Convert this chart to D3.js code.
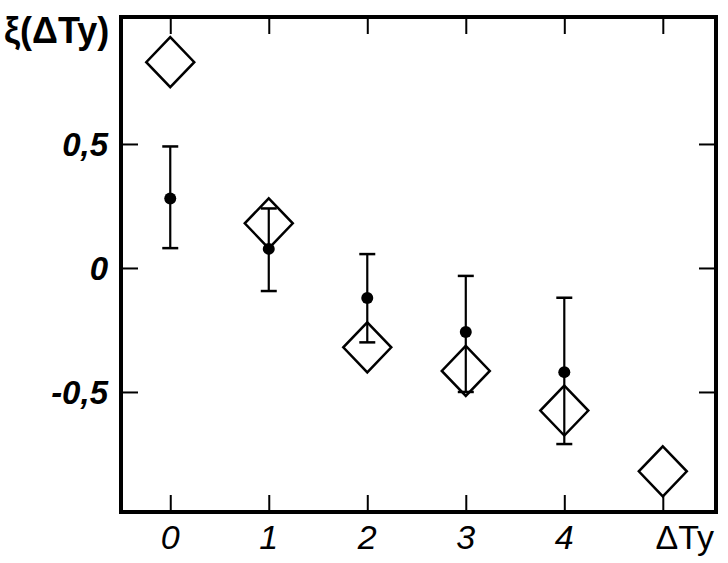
<!DOCTYPE html>
<html>
<head>
<meta charset="utf-8">
<script src="https://cdn.jsdelivr.net/npm/d3@7"></script>
<style>
  html, body { margin: 0; padding: 0; background: #fff; }
  svg { display: block; }
</style>
</head>
<body>
<svg id="chart" width="728" height="563"></svg>
<script>
// ---- data ----
const pointX = [0, 1, 2, 3, 4];
const pointY = [0.28, 0.077, -0.121, -0.258, -0.42];
const errHigh = [0.49, 0.24, 0.056, -0.032, -0.12];
const errLow = [0.08, -0.093, -0.30, -0.50, -0.71];

const diamondX = [0, 1, 2, 3, 4, 5];
const diamondY = [0.83, 0.18, -0.32, -0.415, -0.575, -0.82];

const xTicks = [0, 1, 2, 3, 4, 5];
const xTickLabels = ["0", "1", "2", "3", "4", "ΔTy"];
const yTicks = [0.5, 0, -0.5];
const yTickLabels = ["0,5", "0", "-0,5"];
const yAxisTitle = "ξ(ΔTy)";

// ---- layout ----
const svg = d3.select("#chart");
const pLeft = 121, pRight = 716, pTop = 17, pBottom = 512;
const x = d3.scaleLinear().domain([-0.5, 5.54]).range([pLeft, pRight]);
const y = d3.scaleLinear().domain([-0.984, 1.012]).range([pBottom, pTop]);

const ink = "#000";
const tickLen = 17;

// frame
svg.append("rect")
  .attr("x", pLeft).attr("y", pTop)
  .attr("width", pRight - pLeft).attr("height", pBottom - pTop)
  .attr("fill", "none").attr("stroke", ink).attr("stroke-width", 4);

function styleTicks(g) {
  g.select(".domain").remove();
  g.selectAll(".tick line").attr("stroke", ink).attr("stroke-width", 2);
}

svg.append("g").attr("transform", `translate(0,${pBottom})`)
  .call(d3.axisBottom(x).tickValues(xTicks).tickSize(-tickLen).tickFormat(""))
  .call(styleTicks);
svg.append("g").attr("transform", `translate(0,${pTop})`)
  .call(d3.axisTop(x).tickValues(xTicks).tickSize(-tickLen).tickFormat(""))
  .call(styleTicks);
svg.append("g").attr("transform", `translate(${pLeft},0)`)
  .call(d3.axisLeft(y).tickValues(yTicks).tickSize(-tickLen).tickFormat(""))
  .call(styleTicks);
svg.append("g").attr("transform", `translate(${pRight},0)`)
  .call(d3.axisRight(y).tickValues(yTicks).tickSize(-tickLen).tickFormat(""))
  .call(styleTicks);

// x tick labels
svg.append("g").selectAll("text")
  .data(xTicks)
  .join("text")
  .attr("x", (d, i) => x(d) + (i === 5 ? 22 : 0))
  .attr("y", 549)
  .attr("text-anchor", "middle")
  .attr("font-family", "Liberation Sans, Arial, sans-serif")
  .attr("font-style", (d, i) => i === 5 ? "normal" : "italic")
  .attr("font-size", 34)
  .attr("fill", ink)
  .text((d, i) => xTickLabels[i]);

// y tick labels
svg.append("g").selectAll("text")
  .data(yTicks)
  .join("text")
  .attr("x", 108)
  .attr("y", d => y(d) + 12)
  .attr("text-anchor", "end")
  .attr("font-family", "Liberation Sans, Arial, sans-serif")
  .attr("font-style", "italic")
  .attr("font-weight", "bold")
  .attr("font-size", 33)
  .attr("fill", ink)
  .text((d, i) => yTickLabels[i]);

// y axis title
svg.append("text")
  .attr("x", 4).attr("y", 43)
  .attr("font-family", "Liberation Sans, Arial, sans-serif")
  .attr("font-weight", "bold")
  .attr("font-size", 36)
  .attr("fill", ink)
  .text(yAxisTitle);

// diamonds
const hw = 24, hh = 25;
svg.append("g").selectAll("path")
  .data(diamondX)
  .join("path")
  .attr("d", (d, i) => {
    const cx = x(d), cy = y(diamondY[i]);
    return `M${cx},${cy - hh}L${cx + hw},${cy}L${cx},${cy + hh}L${cx - hw},${cy}Z`;
  })
  .attr("fill", "none").attr("stroke", ink).attr("stroke-width", 2.5);

// error bars
const eb = svg.append("g");
eb.selectAll("line.v")
  .data(pointX)
  .join("line")
  .attr("class", "v")
  .attr("x1", d => x(d)).attr("x2", d => x(d))
  .attr("y1", (d, i) => y(errHigh[i])).attr("y2", (d, i) => y(errLow[i]))
  .attr("stroke", ink).attr("stroke-width", 2.2);
const cap = 8;
eb.selectAll("line.ct")
  .data(pointX)
  .join("line")
  .attr("class", "ct")
  .attr("x1", d => x(d) - cap).attr("x2", d => x(d) + cap)
  .attr("y1", (d, i) => y(errHigh[i])).attr("y2", (d, i) => y(errHigh[i]))
  .attr("stroke", ink).attr("stroke-width", 2.5);
eb.selectAll("line.cb")
  .data(pointX)
  .join("line")
  .attr("class", "cb")
  .attr("x1", d => x(d) - cap).attr("x2", d => x(d) + cap)
  .attr("y1", (d, i) => y(errLow[i])).attr("y2", (d, i) => y(errLow[i]))
  .attr("stroke", ink).attr("stroke-width", 2.5);

// points
svg.append("g").selectAll("circle")
  .data(pointX)
  .join("circle")
  .attr("cx", d => x(d))
  .attr("cy", (d, i) => y(pointY[i]))
  .attr("r", 6)
  .attr("fill", ink);
</script>
</body>
</html>
